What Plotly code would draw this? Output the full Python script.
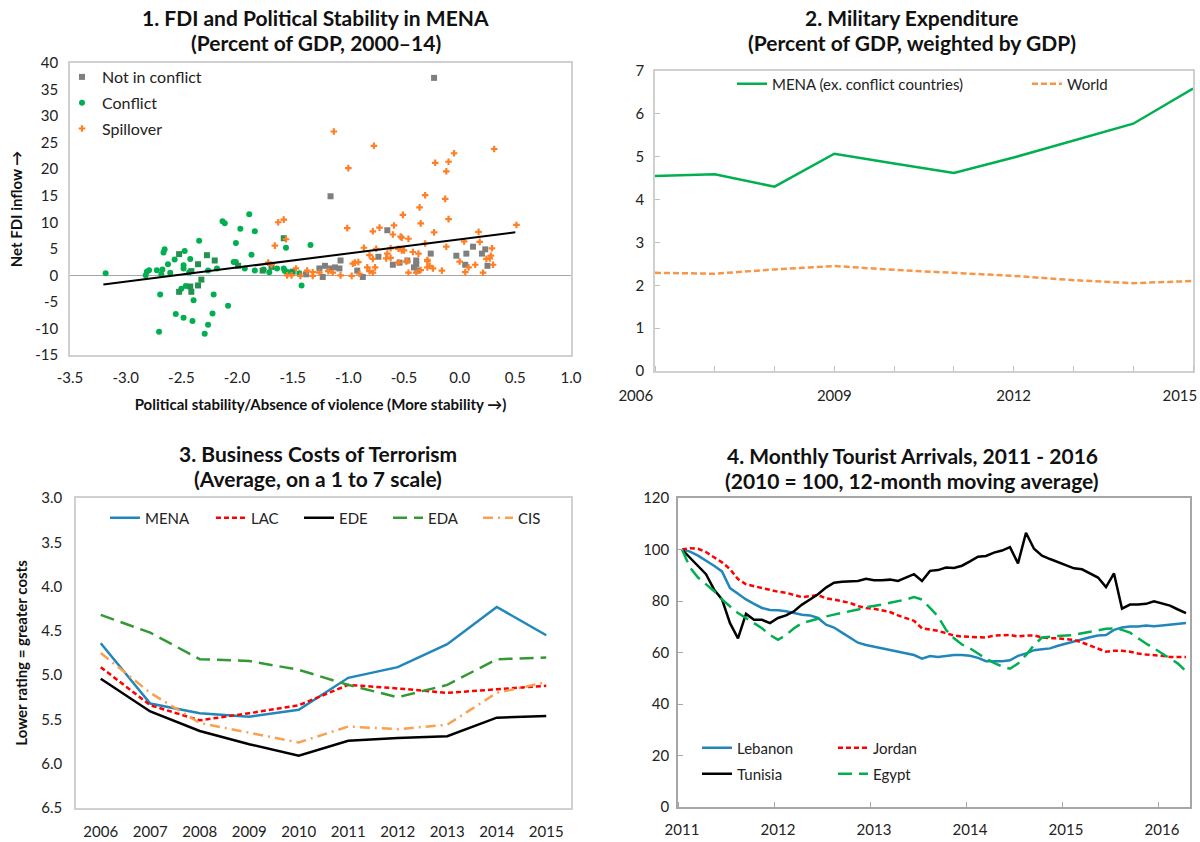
import plotly.graph_objects as go

# ---------- panel 1: FDI vs political stability ----------
nic_x = [-1.38, -1.26, -1.23, -1.21, -1.17, -1.16, -0.65, -1.07, -1.12, -1.08, -0.92, -0.87, -0.73,
         -0.60, -0.54, -0.47, -0.39, -0.39, -0.41, -0.38, -0.26, -0.23, 0.12, 0.06, -0.03, 0.20,
         0.23, 0.05, 0.25]
nic_y = [0.2, 1.3, -0.3, 1.8, 1.3, 14.9, 8.5, 2.8, 1.5, 1.3, 0.9, -0.3, 3.5,
         2.0, 2.4, 2.8, 2.8, 2.1, 1.5, 0.9, 4.1, 37.2, 5.4, 4.1, 3.7, 4.1,
         4.9, 2.0, 1.8]

conf_x = [-3.18, -2.65, -2.66, -2.82, -2.81, -2.79, -2.72, -2.67, -2.68, -2.62, -2.60, -2.56, -2.47,
          -2.48, -2.48, -2.42, -2.43, -2.34, -2.69, -2.50, -2.46, -2.39, -2.55, -2.48, -2.40, -2.70,
          -2.13, -2.11, -1.89, -1.97, -1.84, -2.01, -1.87, -2.03, -2.01, -2.18, -2.26, -1.93, -1.84,
          -1.76, -1.71, -1.64, -1.58, -1.57, -1.55, -1.56, -1.44, -1.34, -1.42, -2.21, -2.08, -2.22,
          -2.26, -2.29]
conf_y = [0.4, 4.9, 4.3, 0.0, 0.7, 0.95, 0.95, 1.1, 0.2, 2.1, 0.5, 3.0, 4.6,
          1.3, 1.9, 3.1, 0.6, 6.5, -3.6, -2.5, -2.0, -4.7, -7.3, -8.0, -8.6, -10.6,
          10.2, 9.8, 11.5, 8.8, 8.3, 6.1, 3.9, 2.5, 2.5, 1.3, 0.9, 1.3, 0.9,
          1.1, 0.6, 1.3, 1.3, 0.8, 0.7, 5.2, 0.4, 5.7, -1.9, -3.6, -5.7, -7.2,
          -9.3, -11.0]

# overlapping conflict / non-conflict points drawn as dark squares
ovl_x = [-2.52, -2.35, -2.41, -2.42, -2.41, -2.52, -2.35, -2.27, -2.20, -2.32, -1.99, -1.58,
         -1.69, -1.77, -1.50]
ovl_y = [4.0, 2.1, 0.8, -2.1, -3.1, -3.1, -1.9, 3.8, 2.8, -0.8, 1.8, 7.0,
         1.6, 0.9, 0.7]

spill_x = [-1.63, -1.58, -1.56, -1.66, -1.72, -1.69, -1.47, -1.55, -1.51, -1.43, -1.37, -1.32,
           -1.32, -1.26, -1.13, -0.77, -1.00, -1.01, -0.78, -0.72, -0.59, -0.60, -0.53, -0.52,
           -0.46, -0.51, -0.36, -0.31, -0.35, -0.23, -0.22, -0.10, -0.12, -0.13, -0.10, -0.31,
           -0.12, -0.86, -0.75, -0.62, -0.55, -0.52, -0.50, -0.42, -0.37, -0.81, -0.65, -0.66,
           -0.62, -0.78, -0.96, -0.94, -0.91, -0.55, -0.48, -0.47, -0.29, -0.29, -0.27, -0.29,
           -0.24, -0.35, -0.39, -0.46, -0.16, -0.83, -0.76, -0.81, -0.78, -0.90, -0.97, -1.07,
           -1.18, -1.14, 0.31, -0.05, 0.51, 0.17, 0.04, 0.18, 0.29, 0.00, 0.28, 0.27,
           0.24, 0.14, 0.30, 0.08, 0.05, 0.21]
spill_y = [10.0, 10.5, 6.8, 5.6, 2.4, 2.0, 1.3, 0.0, 0.0, -0.1, 0.9, 0.6,
           -0.1, 0.5, 27.1, 24.4, 20.2, 8.9, 8.3, 9.0, 9.4, 7.7, 7.3, 7.1,
           6.9, 11.4, 12.8, 15.1, 9.8, 8.1, 21.2, 21.4, 19.6, 14.4, 10.6, 6.0,
           5.4, 5.2, 5.0, 5.1, 5.0, 4.7, 4.7, 4.4, 4.1, 3.8, 4.1, 3.2,
           3.3, 3.1, 2.2, 2.4, 2.5, 2.4, 2.6, 2.7, 2.9, 2.7, 1.8, 1.5,
           1.3, 1.0, 0.5, 0.5, 0.9, 1.5, 1.5, 0.8, 0.5, 0.3, -0.1, 0.0,
           0.8, 0.5, 23.8, 23.0, 9.5, 8.2, 6.4, 6.3, 5.1, 2.6, 3.7, 3.2,
           3.1, 2.0, 2.0, 1.5, 0.6, 0.5]

trend_x = [-3.2, 0.5]
trend_y = [-1.7, 8.1]

fdi_xticks = [-3.5, -3.0, -2.5, -2.0, -1.5, -1.0, -0.5, 0.0, 0.5, 1.0]
fdi_xlabels = ["-3.5", "-3.0", "-2.5", "-2.0", "-1.5", "-1.0", "-0.5", "0.0", "0.5", "1.0"]
fdi_yticks = [-15, -10, -5, 0, 5, 10, 15, 20, 25, 30, 35, 40]
fdi_ylabels = ["-15", "-10", "-5", "0", "5", "10", "15", "20", "25", "30", "35", "40"]

# ---------- panel 2: military expenditure ----------
NB = "\u00a0"
mil_years = [2006, 2007, 2008, 2009, 2010, 2011, 2012, 2013, 2014, 2015]
# label positions: end labels sit inward, as in the original
mil_label_pos = [2006, 2009, 2012, 2014.78]
mil_labels = ["2006" + NB * 10, "2009", "2012", "2015"]
mil_mena = [4.55, 4.59, 4.30, 5.07, 4.84, 4.62, 4.98, 5.37, 5.77, 6.59]
mil_world = [2.29, 2.27, 2.37, 2.45, 2.36, 2.29, 2.22, 2.12, 2.05, 2.10]

# ---------- panel 3: business costs of terrorism ----------
bc_years = [2006, 2007, 2008, 2009, 2010, 2011, 2012, 2013, 2014, 2015]
bc_mena = [4.64, 5.32, 5.43, 5.47, 5.39, 5.03, 4.91, 4.65, 4.23, 4.55]
bc_lac = [4.91, 5.34, 5.51, 5.43, 5.34, 5.11, 5.15, 5.20, 5.16, 5.12]
bc_ede = [5.04, 5.41, 5.63, 5.78, 5.91, 5.74, 5.71, 5.69, 5.48, 5.46]
bc_eda = [4.32, 4.52, 4.82, 4.84, 4.94, 5.11, 5.25, 5.11, 4.82, 4.80]
bc_cis = [4.75, 5.20, 5.54, 5.65, 5.76, 5.58, 5.61, 5.56, 5.20, 5.08]

# ---------- panel 4: tourist arrivals (monthly, Jan 2011 - Apr 2016) ----------
months = list(range(64))
year_ticks = [0, 12, 24, 36, 48, 60]
year_labels = ["2011", "2012", "2013", "2014", "2015", "2016"]
lebanon = [100, 99.2, 97.6, 95.7, 93.7, 91.5, 85.0, 82.8, 80.6, 78.9, 77.3, 76.5,
           76.4, 76.0, 75.3, 74.7, 74.4, 73.4, 70.8, 69.7, 67.7, 65.9, 63.8, 62.9,
           62.2, 61.6, 60.9, 60.3, 59.6, 59.0, 57.6, 58.6, 58.3, 58.7, 59.0, 59.0,
           58.7, 57.9, 56.6, 56.6, 56.6, 57.0, 58.7, 59.6, 60.9, 61.3, 61.6, 62.6,
           63.5, 64.2, 65.1, 65.9, 66.6, 66.8, 68.8, 69.7, 70.1, 70.1, 70.5, 70.2,
           70.5, 70.8, 71.3, 71.5]
jordan = [100, 100.5, 100.3, 99.0, 97.0, 95.0, 92.4, 88.5, 86.5, 85.8, 84.9, 84.1,
          83.6, 83.2, 82.3, 81.5, 81.9, 82.3, 81.0, 80.6, 79.9, 79.3, 78.0, 77.3,
          77.0, 76.3, 75.7, 74.4, 73.4, 72.3, 69.4, 68.8, 68.4, 67.5, 66.6, 66.2,
          66.0, 65.9, 65.8, 66.6, 66.8, 66.8, 66.2, 66.6, 66.6, 65.9, 65.5, 65.5,
          65.2, 64.9, 63.9, 62.6, 61.6, 60.3, 60.7, 60.7, 60.3, 59.6, 59.2, 59.0,
          58.7, 58.3, 58.3, 58.3]
tunisia = [100, 96.7, 93.3, 90.4, 84.5, 80.6, 71.4, 65.5, 75.0, 72.7, 72.7, 71.4,
           73.4, 74.4, 76.0, 78.6, 80.6, 82.6, 85.2, 87.1, 87.5, 87.7, 87.8, 88.6,
           88.1, 88.1, 88.3, 87.8, 89.1, 90.4, 87.8, 91.7, 92.0, 93.0, 92.8, 93.7,
           95.4, 97.2, 97.5, 98.8, 99.6, 100.9, 94.6, 106.5, 100.3, 97.6, 96.3, 95.0,
           93.7, 92.7, 92.3, 90.7, 89.1, 85.4, 90.7, 77.0, 78.6, 78.6, 78.9, 79.9,
           79.0, 78.2, 76.7, 75.3]
egypt = [100, 93.0, 89.1, 86.5, 83.9, 80.6, 78.0, 75.3, 73.4, 71.4, 69.4, 66.8,
         64.9, 66.8, 69.4, 71.4, 72.3, 73.4, 74.0, 74.7, 75.3, 76.0, 76.7, 77.6,
         78.0, 78.6, 79.3, 79.9, 80.6, 81.5, 80.6, 77.3, 74.0, 68.8, 65.5, 63.1,
         61.6, 59.6, 57.6, 56.0, 54.6, 53.7, 55.7, 59.0, 62.9, 65.8, 66.2, 66.4,
         66.6, 66.8, 67.5, 68.1, 68.8, 69.2, 69.4, 68.8, 67.7, 65.5, 63.5, 61.6,
         59.6, 57.9, 55.7, 52.7]

FONT = "Lato"
W, H = 1200, 842


def px_x(v):
    return v / W


def px_y(v):
    return 1 - v / H


fig = go.Figure()

# panel 1
fig.add_trace(go.Scatter(x=nic_x, y=nic_y, mode="markers", name="Not in conflict",
                         marker=dict(symbol="square", size=6, color="#7f7f7f"),
                         xaxis="x", yaxis="y", legend="legend", legendgroup="a"))
fig.add_trace(go.Scatter(x=conf_x, y=conf_y, mode="markers", name="Conflict",
                         marker=dict(symbol="circle", size=6, color="#00b050"),
                         xaxis="x", yaxis="y", legend="legend", legendgroup="b"))
fig.add_trace(go.Scatter(x=ovl_x, y=ovl_y, mode="markers", showlegend=False,
                         marker=dict(symbol="square", size=6, color="#23924f"),
                         xaxis="x", yaxis="y"))
fig.add_trace(go.Scatter(x=spill_x, y=spill_y, mode="markers", name="Spillover",
                         marker=dict(symbol="cross", size=5.5, color="#ff7f27"),
                         xaxis="x", yaxis="y", legend="legend", legendgroup="c"))
fig.add_trace(go.Scatter(x=trend_x, y=trend_y, mode="lines", showlegend=False,
                         line=dict(color="black", width=2), xaxis="x", yaxis="y"))

# one legend per entry so every label sits where the reference puts it
legend_specs = {}


def add_line(x, y, name, color, dash, ax, legend_id, lx, ly):
    fig.add_trace(go.Scatter(x=x, y=y, mode="lines", name=name,
                             line=dict(color=color, width=2.5, dash=dash),
                             xaxis="x" + ax, yaxis="y" + ax, legend=legend_id))
    legend_specs[legend_id] = (lx, ly)


# panel 2
add_line(mil_years, mil_mena, "MENA (ex. conflict countries)", "#00b050", "solid", "2", "legend2", 732, 84)
add_line(mil_years, mil_world, "World", "#f79646", "6px,3px", "2", "legend3", 1027, 84)

# panel 3
bc_series = [("MENA", bc_mena, "#2187bb", "solid", 105),
             ("LAC", bc_lac, "#ff0000", "5px,3px", 211),
             ("EDE", bc_ede, "#000000", "solid", 299),
             ("EDA", bc_eda, "#339933", "14px,7px", 388),
             ("CIS", bc_cis, "#f9a14e", "10px,5px,2px,5px", 478)]
for i, (nm, vals, col, dash, lx) in enumerate(bc_series):
    add_line(bc_years, vals, nm, col, dash, "3", "legend%d" % (4 + i), lx, 518)

# panel 4
add_line(months, lebanon, "Lebanon", "#2187bb", "solid", "4", "legend9", 697, 748)
add_line(months, jordan, "Jordan", "#ff0000", "5px,3px", "4", "legend10", 833, 748)
add_line(months, tunisia, "Tunisia", "#000000", "solid", "4", "legend11", 697, 774)
add_line(months, egypt, "Egypt", "#00b050", "14px,7px", "4", "legend12", 833, 774)

tickfont = dict(family=FONT, size=15, color="#222222")
box = dict(showline=True, linewidth=1.5, mirror=True, showgrid=False,
           tickfont=tickfont, automargin=False)
light = "#d0d0d0"
mid = "#a6a6a6"
title_font = dict(family=FONT, size=15, color="#111111")

fig.update_layout(
    width=W, height=H,
    margin=dict(l=0, r=0, t=0, b=0),
    paper_bgcolor="white", plot_bgcolor="white",
    font=dict(family=FONT, size=15, color="#222222"),
    showlegend=True,
    xaxis=dict(domain=[px_x(70), px_x(571)], range=[-3.5, 1.0], tickvals=fdi_xticks,
               ticktext=fdi_xlabels, anchor="y", ticks="", linecolor=light, zeroline=False,
               ticklabelstandoff=8, **box,
               title=dict(text="<b>Political stability/Absence of violence (More stability →)</b>",
                          font=title_font, standoff=15)),
    yaxis=dict(domain=[px_y(355), px_y(63)], range=[-15, 40], tickvals=fdi_yticks,
               ticktext=fdi_ylabels, anchor="x", ticks="", linecolor=light, ticklabelstandoff=7, **box,
               zeroline=True, zerolinecolor=mid, zerolinewidth=1.2,
               title=dict(text="<b>Net FDI inflow →</b>", font=title_font, standoff=9)),
    xaxis2=dict(domain=[px_x(655), px_x(1193)], range=[2006, 2015], anchor="y2",
                tickvals=mil_label_pos, ticktext=mil_labels, zeroline=False, ticklabelstandoff=10,
                ticks="",
                minor=dict(tickvals=mil_years, ticks="inside", ticklen=5, tickcolor="#bfbfbf"),
                linecolor=light, **box),
    yaxis2=dict(domain=[px_y(371), px_y(71)], range=[0, 7], dtick=1, anchor="x2", zeroline=False,
                ticklabelstandoff=6,
                ticks="inside", ticklen=5, tickcolor="#bfbfbf", linecolor=light, **box),
    xaxis3=dict(domain=[px_x(76), px_x(571)], range=[2005.5, 2015.5], dtick=1, anchor="y3",
                ticks="", linecolor=light, zeroline=False, ticklabelstandoff=9, **box),
    yaxis3=dict(domain=[px_y(808), px_y(498)], range=[6.5, 3.0], dtick=0.5, tickformat=".1f",
                anchor="x3", ticks="", linecolor=light, zeroline=False, ticklabelstandoff=9, **box,
                title=dict(text="<b>Lower rating = greater costs</b>", font=title_font, standoff=10)),
    xaxis4=dict(domain=[px_x(678), px_x(1190)], range=[-0.5, 63.5], anchor="y4",
                tickvals=year_ticks, ticktext=year_labels, ticks="", zeroline=False,
                ticklabelstandoff=8, ticklabeloverflow="allow",
                minor=dict(tick0=-0.5, dtick=12, ticks="inside", ticklen=5, tickcolor=mid),
                linecolor=mid, **box),
    yaxis4=dict(domain=[px_y(807), px_y(498)], range=[0, 120], dtick=20, anchor="x4", zeroline=False,
                ticklabelstandoff=4,
                ticks="inside", ticklen=5, tickcolor=mid, linecolor=mid, **box),
    legend=dict(x=px_x(62), y=px_y(60), xanchor="left", yanchor="top", bgcolor="rgba(0,0,0,0)",
                font=dict(family=FONT, size=16), traceorder="grouped", tracegroupgap=2),
)

for lid, (lx, ly) in legend_specs.items():
    fig.update_layout({lid: dict(x=px_x(lx), y=px_y(ly), xanchor="left", yanchor="middle",
                                 bgcolor="rgba(0,0,0,0)", font=dict(family=FONT, size=15))})

# titles: two lines each, placed separately to keep the tight line spacing
titles = [
    (316, 18, "1. FDI and Political Stability in MENA", "(Percent of GDP, 2000–14)"),
    (912, 18, "2. Military Expenditure", "(Percent of GDP, weighted by GDP)"),
    (318, 453, "3. Business Costs of Terrorism", "(Average, on a 1 to 7 scale)"),
    (912, 455, "4. Monthly Tourist Arrivals, 2011 - 2016", "(2010 = 100, 12-month moving average)"),
]
for cx, cy, line1, line2 in titles:
    for k, txt in enumerate([line1, line2]):
        fig.add_annotation(x=px_x(cx), y=px_y(cy + 25 * k), xref="paper", yref="paper",
                           xanchor="center", yanchor="middle", showarrow=False,
                           text="<b>" + txt + "</b>",
                           font=dict(family=FONT, size=21, color="#111111"))

fig.write_html("out.html", config={"displayModeBar": False},
               post_script="document.body.style.margin='0';document.body.style.padding='0';")
